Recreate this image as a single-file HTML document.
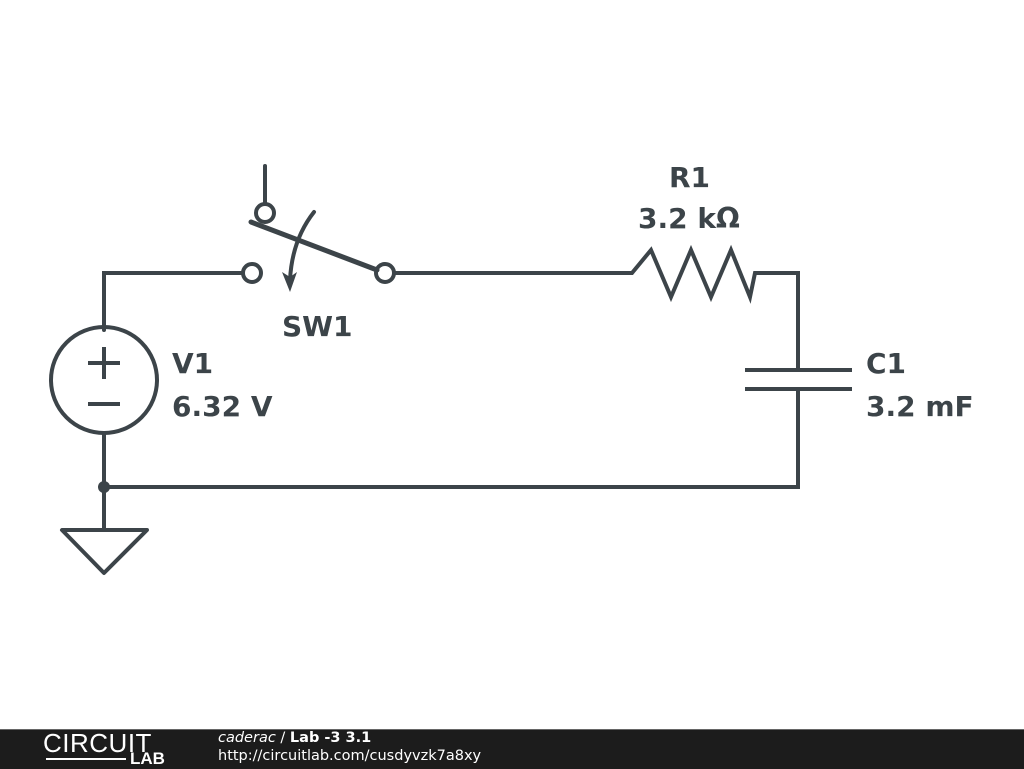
<!DOCTYPE html>
<html><head><style>
body{margin:0;width:1024px;height:768px;background:#fff;overflow:hidden;position:relative;font-family:"DejaVu Sans","Liberation Sans",sans-serif}
.foot{position:absolute;left:0;top:729px;width:1024px;height:39px;background:#1c1c1c;border-top:1px solid #666}
</style></head><body>
<svg width="1024" height="768" style="position:absolute;left:0;top:0">
<g stroke="#3c4449" stroke-width="4" fill="none" stroke-linecap="round">
<path d="M104,330 V273 H243"/>
<circle cx="252" cy="273" r="9"/>
<path d="M265,166 V204"/>
<circle cx="265" cy="213" r="9"/>
<path d="M251,222 L377,270" stroke-width="5"/>
<circle cx="385" cy="273" r="9"/>
<path d="M394,273 H632 L651,250 L671,297 L691,250 L711,297 L731,250 L750,297 L755,273 H798 V370"/>
<path d="M745,370 H852 M745,389 H852" stroke-linecap="butt"/>
<path d="M798,389 V487 H104 V433"/>
<path d="M104,487 V530"/>
<path d="M62,530 H147 L104,573 Z" stroke-linejoin="round"/>
<circle cx="104" cy="380" r="53"/>
<path d="M88,363 H120 M104,347 V379 M88,404 H120" stroke-linecap="butt"/>
<path d="M314,212 Q292,240 290,280"/>
</g>
<path d="M282,272 L290,292 L297,272 L290,277 Z" fill="#3c4449"/>
<circle cx="104" cy="487" r="6" fill="#3c4449"/>
<g fill="#3c4449" font-weight="bold" font-size="28" font-family="DejaVu Sans, sans-serif">
<text x="669" y="187">R1</text>
<text x="638" y="228">3.2 kΩ</text>
<text x="282" y="336">SW1</text>
<text x="172" y="373">V1</text>
<text x="172" y="416">6.32 V</text>
<text x="866" y="373">C1</text>
<text x="866" y="416">3.2 mF</text>
</g>
</svg>
<div class="foot">
<div style="position:absolute;left:43px;top:-2px;color:#fff;font-size:26px;font-weight:300;font-family:'Liberation Sans',sans-serif;letter-spacing:0.5px">CIRCUIT</div>
<div style="position:absolute;left:46px;top:28px;width:80px;height:2px;background:#fff"></div>
<div style="position:absolute;left:130px;top:19px;color:#fff;font-size:17px;font-weight:bold;font-family:'Liberation Sans',sans-serif">LAB</div>
<div style="position:absolute;left:218px;top:0px;color:#fff;font-size:14.5px"><i>caderac</i> / <b>Lab -3 3.1</b></div>
<div style="position:absolute;left:218px;top:18px;color:#fff;font-size:14.5px">http://circuitlab.com/cusdyvzk7a8xy</div>
</div>
</body></html>
